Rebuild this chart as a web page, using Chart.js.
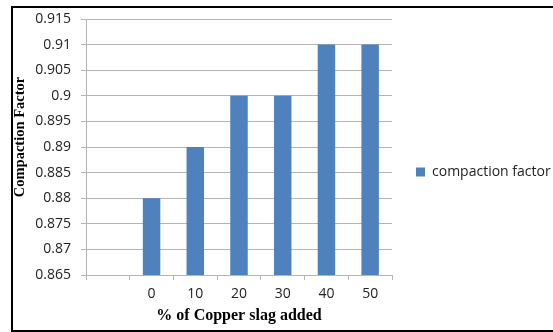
<!DOCTYPE html>
<html>
<head>
<meta charset="utf-8">
<script src="https://cdn.jsdelivr.net/npm/chart.js@4"></script>
<style>
  html, body { margin: 0; padding: 0; background: #fff; overflow: hidden; }
  #wrap { position: relative; width: 553px; height: 332px; }
  #frame {
    position: absolute; left: 11px; top: 6px; width: 600px; height: 322px;
    border: 2px solid #000; pointer-events: none;
  }
  canvas { position: absolute; left: 0; top: 0; }
</style>
</head>
<body>
<div id="wrap">
  <canvas id="cfChart" width="553" height="332"></canvas>
  <div id="frame"></div>
</div>
<script>
// categories (first slot is left empty on the axis)
const slagPercent = ['', '0', '10', '20', '30', '40', '50'];
const compactionFactor = [null, 0.88, 0.89, 0.90, 0.90, 0.91, 0.91];
const seriesName = 'compaction factor';
const yMin = 0.865, yMax = 0.915, yStep = 0.005;
const xTitle = '% of Copper slag added';
const yTitle = 'Compaction Factor';

const tickFont = { family: 'Open Sans', size: 14 };
const gridColor = '#b4b4b4';

// rotated y-axis title, placed a little above the axis middle
const yTitlePlugin = {
    id: 'yTitle',
    afterDraw(chart) {
        const ctx = chart.ctx;
        ctx.save();
        ctx.translate(20, 137);
        ctx.rotate(-Math.PI / 2);
        ctx.font = 'bold 14.5px "Liberation Serif"';
        ctx.fillStyle = '#000';
        ctx.textAlign = 'center';
        ctx.textBaseline = 'middle';
        ctx.fillText(yTitle, 0, 0);
        ctx.restore();
    }
};

new Chart(document.getElementById('cfChart'), {
    type: 'bar',
    data: {
        labels: slagPercent,
        datasets: [{
            label: seriesName,
            data: compactionFactor,
            backgroundColor: '#4f81bd',
            borderWidth: 0,
            barPercentage: 0.4,
            categoryPercentage: 1.0
        }]
    },
    options: {
        responsive: false,
        animation: false,
        layout: { padding: { top: 19, right: 0, bottom: 7, left: 0 } },
        scales: {
            x: {
                grid: { display: true, drawOnChartArea: false, drawTicks: true, tickLength: 5, color: gridColor, offset: true },
                border: { color: gridColor },
                ticks: { font: tickFont, color: '#222', padding: 6 },
                title: {
                    display: true, text: xTitle, color: '#000',
                    font: { family: 'Liberation Serif', size: 16, weight: 'bold' },
                    padding: { top: 2, bottom: 0 }
                },
                afterFit: s => { s.height = 50; }
            },
            y: {
                min: yMin,
                max: yMax,
                grid: { color: gridColor, tickLength: 5 },
                border: { color: gridColor },
                ticks: {
                    stepSize: yStep,
                    font: tickFont,
                    color: '#222',
                    padding: 10,
                    callback: v => String(Number(v.toFixed(3)))
                },
                afterFit: s => { s.width = 86; }
            }
        },
        plugins: {
            legend: {
                position: 'right',
                maxWidth: 161,
                labels: {
                    font: tickFont,
                    color: '#222',
                    boxWidth: 9,
                    boxHeight: 9,
                    padding: 24
                }
            },
            tooltip: { enabled: false }
        }
    },
    plugins: [yTitlePlugin]
});
</script>
</body>
</html>
